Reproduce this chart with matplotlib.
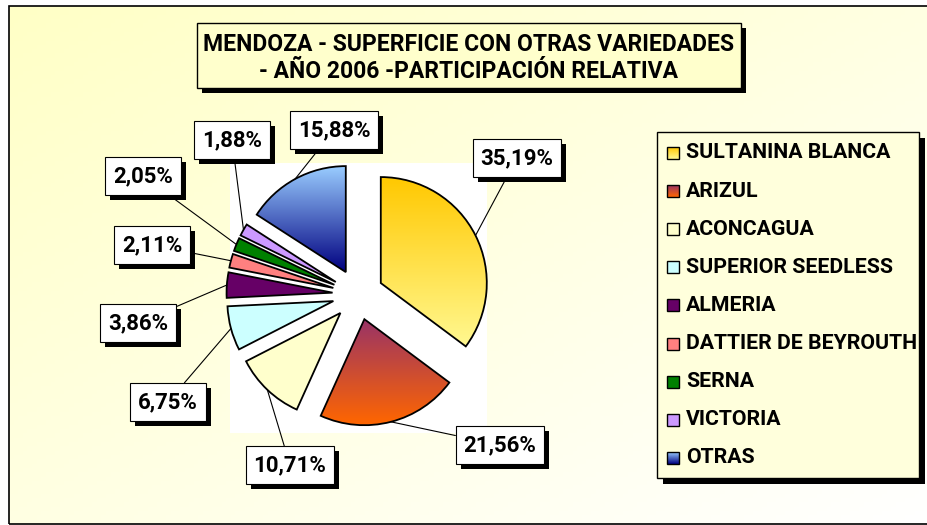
import matplotlib.pyplot as plt
import matplotlib.patches as mpatches
import matplotlib.colors as mcolors
import numpy as np

plt.rcParams['font.family'] = ['Roboto', 'DejaVu Sans']

W, H = 928, 525

varieties = ["SULTANINA BLANCA", "ARIZUL", "ACONCAGUA", "SUPERIOR SEEDLESS",
             "ALMERIA", "DATTIER DE BEYROUTH", "SERNA", "VICTORIA", "OTRAS"]
shares = [35.19, 21.56, 10.71, 6.75, 3.86, 2.11, 2.05, 1.88, 15.88]
pct_labels = [f"{v:.2f}%".replace('.', ',') for v in shares]

# top / bottom of the vertical fill gradient (same colour = flat fill)
top_colors = ['#FFC800', '#993366', '#FFFFCC', '#CCFFFF', '#660066',
              '#FF8080', '#008000', '#CC99FF', '#99CCFF']
bottom_colors = ['#FFF890', '#FF6600', '#FFFFCC', '#CCFFFF', '#660066',
                 '#FF8080', '#008000', '#CC99FF', '#000080']

# label box centres in pixels (x, y from top)
label_pos = [(517, 158), (500, 445), (290, 465), (168, 402), (138, 323),
             (152, 245), (143, 176), (232, 140), (334, 130)]


def Y(y):
    return H - y


def gradient(c1, c2, n=128):
    a = np.array(mcolors.to_rgba(c1))
    b = np.array(mcolors.to_rgba(c2))
    t = np.linspace(0, 1, n)[:, None]
    return (a + (b - a) * t)[:, None, :]


fig = plt.figure(figsize=(W / 100, H / 100), dpi=100)
ax = fig.add_axes([0, 0, 1, 1])

# background with diagonal light-yellow gradient
gx, gy = np.meshgrid(np.linspace(0, 1, 200), np.linspace(0, 1, 120))
t = (gx + gy) / 2
c1 = np.array(mcolors.to_rgb('#FFFFC6'))
c2 = np.array(mcolors.to_rgb('#FFFFFF'))
bg = c1 + (c2 - c1) * t[..., None]
ax.imshow(bg, extent=(9, W + 5, Y(524), Y(6)), origin='upper', aspect='auto', zorder=0)
ax.add_patch(mpatches.Rectangle((9, Y(524)), W, 518, fc='none', ec='black', lw=1.2, zorder=1))

# white plot area
ax.add_patch(mpatches.Rectangle((230, Y(433)), 257, 270, fc='white', ec='none', zorder=1))

wedges, _ = ax.pie(shares, explode=[25.5] * len(shares), colors=top_colors,
                   startangle=90, counterclock=False, radius=106,
                   center=(358, Y(294.5)), frame=True,
                   wedgeprops=dict(edgecolor='black', linewidth=1.3))

for w, ct, cb in zip(wedges, top_colors, bottom_colors):
    w.set_zorder(3)
    if ct != cb:
        w.set_facecolor('none')
        ext = w.get_path().get_extents()
        im = ax.imshow(gradient(ct, cb), extent=(ext.x0, ext.x1, ext.y0, ext.y1),
                       origin='upper', aspect='auto', zorder=2.5)
        im.set_clip_path(w)

# percentage labels with leader lines
anns = []
for w, txt, (lx, ly) in zip(wedges, pct_labels, label_pos):
    mid = np.radians((w.theta1 + w.theta2) / 2)
    pt = (w.center[0] + w.r * np.cos(mid), w.center[1] + w.r * np.sin(mid))
    a = ax.annotate(txt, xy=pt, xytext=(lx, Y(ly)), textcoords='data', zorder=5,
                    fontsize=16, fontweight='bold', ha='center', va='center',
                    bbox=dict(boxstyle='square,pad=0.35', fc='white', ec='black', lw=0.8),
                    arrowprops=dict(arrowstyle='-', color='black', lw=0.8,
                                    shrinkA=0, shrinkB=0))
    anns.append(a)

ax.set_xlim(0, W)
ax.set_ylim(0, H)
ax.set_aspect('auto')
ax.axis('off')

# drop shadows behind the label boxes
fig.canvas.draw()
inv = ax.transData.inverted()
for a in anns:
    bb = a.get_bbox_patch().get_window_extent()
    (x0, y0), (x1, y1) = inv.transform([(bb.x0, bb.y0), (bb.x1, bb.y1)])
    ax.add_patch(mpatches.Rectangle((x0 + 5, y0 - 5), x1 - x0, y1 - y0,
                                    fc='black', ec='none', zorder=4))

# title box
ax.add_patch(mpatches.Rectangle((202, Y(93)), 544, 65, fc='black', ec='none', zorder=6))
ax.add_patch(mpatches.Rectangle((197, Y(88)), 544, 65, fc='#FFFFCC', ec='black', lw=1, zorder=6))
ax.text(469, Y(58), "MENDOZA - SUPERFICIE CON OTRAS VARIEDADES\n- AÑO 2006 -PARTICIPACIÓN RELATIVA",
        ha='center', va='center', fontsize=16.5, fontweight='bold', linespacing=1.2, zorder=7)

# legend
ax.add_patch(mpatches.Rectangle((663, Y(484)), 262, 346, fc='black', ec='none', zorder=6))
ax.add_patch(mpatches.Rectangle((657, Y(478)), 262, 346, fc='#FFFFDC', ec='black', lw=1, zorder=6))
for i, (name, ct, cb) in enumerate(zip(varieties, top_colors, bottom_colors)):
    cy = 153 + i * 38.1
    sq = mpatches.Rectangle((667, Y(cy + 6)), 12, 12, fc=ct, ec='black', lw=1, zorder=7)
    ax.add_patch(sq)
    if ct != cb:
        sq.set_facecolor('none')
        ax.imshow(gradient(ct, cb), extent=(667, 679, Y(cy + 6), Y(cy - 6)),
                  origin='upper', aspect='auto', zorder=6.5)
    ax.text(686, Y(cy), name, ha='left', va='center', fontsize=15.3,
            fontweight='bold', zorder=7)

ax.set_xlim(0, W)
ax.set_ylim(0, H)

fig.savefig('out.png', dpi=100, facecolor='white')
